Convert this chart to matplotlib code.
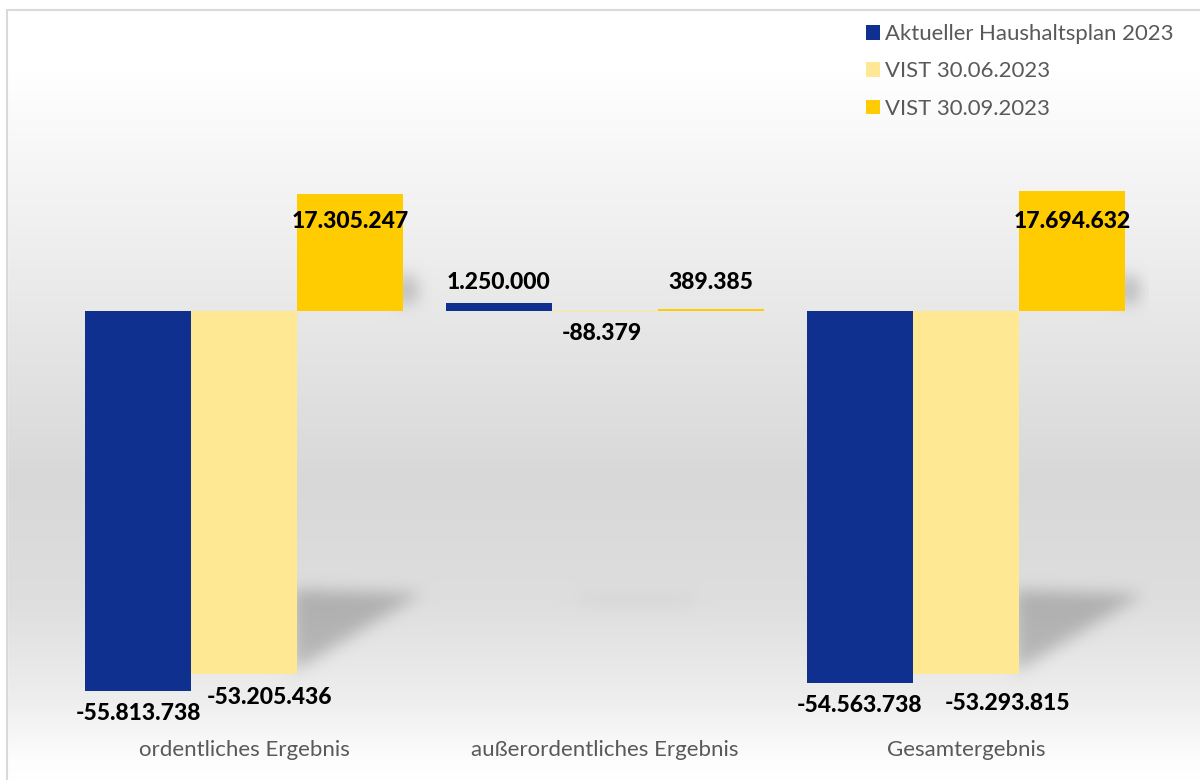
import numpy as np
import matplotlib
matplotlib.use("Agg")
import matplotlib.pyplot as plt
from matplotlib.patches import Patch, Rectangle
from matplotlib.path import Path

# ---------------- data ----------------
categories = ["ordentliches Ergebnis", "außerordentliches Ergebnis", "Gesamtergebnis"]
series_names = ["Aktueller Haushaltsplan 2023", "VIST 30.06.2023", "VIST 30.09.2023"]
haushaltsplan = [-55813738, 1250000, -54563738]
vist_0630 = [-53205436, -88379, -53293815]
vist_0930 = [17305247, 389385, 17694632]

series_values = [haushaltsplan, vist_0630, vist_0930]
colors = ["#10308f", "#fee893", "#fecc00"]

# label nudges in pixels (dx, dy) relative to bar end, per series/category
label_nudge = [
    [(0, -22), (0, 20), (0, -23)],
    [(25, -24), (-3, -21), (41, -29)],
    [(0, -28), (0, 26), (0, -30)],
]

def fmt(v):
    s = f"{abs(v):,}".replace(",", ".")
    return ("-" if v < 0 else "") + s

W, H = 1200, 780
fig = plt.figure(figsize=(W / 100, H / 100), dpi=100)
plt.rcParams['font.family'] = ['Lato', 'DejaVu Sans']

# main axes
left_px, right_px, top_px, bottom_px = 63.5, 1146.5, 150, 700
ax = fig.add_axes([left_px / W, 1 - bottom_px / H, (right_px - left_px) / W,
                   (bottom_px - top_px) / H])
ax.patch.set_alpha(0)
for s in ax.spines.values():
    s.set_visible(False)
ax.set_xlim(-0.5, 2.5)
ax.set_ylim(-57.09e6, 23.73e6)
ax.set_yticks([])

x = np.arange(len(categories))
bw = 0.2937
for i, (vals, c) in enumerate(zip(series_values, colors)):
    xpos = x + (i - 1) * bw
    ax.bar(xpos, vals, width=bw, color=c, zorder=3, label=series_names[i])
    for j, v in enumerate(vals):
        dx, dy = label_nudge[i][j]
        ax.annotate(fmt(v), (xpos[j], v), xytext=(dx * 0.72, dy * 0.72),
                    textcoords='offset points', ha='center', va='center',
                    fontsize=16.5, fontweight='black', color='black', zorder=5)

ax.set_xticks(x)
ax.set_xticklabels(categories, fontsize=16, color='#595959')
ax.tick_params(axis='x', length=0, pad=29)

# ---------------- background gradient with soft shadows ----------------
ys = np.array([0, 70, 150, 300, 480, 600, 700, 760, 780])
vs = np.array([255, 255, 247, 233, 216, 222, 238, 253, 255]) / 255.0
col = np.interp(np.arange(H), ys, vs)
bgimg = np.repeat(col[:, None], W, axis=1)

def to_px(xd, yd):
    X, Y = ax.transData.transform((xd, yd))
    return X, H - Y

gx, gy = np.meshgrid(np.arange(W) + 0.5, np.arange(H) + 0.5)
pts = np.column_stack([gx.ravel(), gy.ravel()])
mask = np.zeros((H, W))

def add_poly(verts, strength):
    p = Path(verts)
    m = p.contains_points(pts).reshape(H, W)
    mask[m] = np.maximum(mask[m], strength)

_, zero_y = to_px(0, 0)
for j in range(len(categories)):
    xl_light = x[j] - bw / 2
    xr_light = x[j] + bw / 2
    xr_gold = x[j] + 1.5 * bw
    v_light = vist_0630[j]
    v_gold = vist_0930[j]
    if v_light < -1e7:
        xr, yb = to_px(xr_light, v_light)
        add_poly([(xr - 4, yb - 84), (xr + 124, yb - 80), (xr - 4, yb - 2)], 1.0)
    else:
        x0, _ = to_px(xl_light, 0)
        x1, _ = to_px(xr_gold, 0)
        add_poly([(x0 + 28, 597), (x1 - 70, 597), (x1 - 70, 603), (x0 + 28, 603)], 0.3)
    if v_gold > 1e7:
        xr, _ = to_px(xr_gold, v_gold)
        add_poly([(xr - 6, zero_y - 38), (xr + 14, zero_y - 32),
                  (xr + 14, zero_y - 10), (xr - 6, zero_y - 6)], 1.0)

def blur(a, sigma):
    r = int(3 * sigma)
    k = np.exp(-0.5 * (np.arange(-r, r + 1) / sigma) ** 2)
    k /= k.sum()
    a = np.apply_along_axis(lambda v: np.convolve(v, k, mode='same'), 1, a)
    a = np.apply_along_axis(lambda v: np.convolve(v, k, mode='same'), 0, a)
    return a

mask = blur(mask, 8.0)
mask[:, 1149:] = 0
bgimg = bgimg * (1 - 0.21 * mask)

bg = fig.add_axes([0, 0, 1, 1], zorder=-10)
bg.set_axis_off()
bg.imshow(np.dstack([bgimg, bgimg, bgimg]), aspect='auto', extent=[0, 1, 0, 1],
          origin='upper', interpolation='nearest')
bg.set_xlim(0, 1); bg.set_ylim(0, 1)
bg.add_patch(Rectangle((0, 0), 7 / W, 1, color='white', zorder=1))
bg.add_patch(Rectangle((0, 1 - 10 / H), 1, 10 / H, color='white', zorder=1))
bg.add_patch(Rectangle((7 / W, -0.01), 1.2, 1 - 10 / H + 0.01, fill=False,
                       edgecolor='#d9d9d9', linewidth=1.5, zorder=2))

handles = [Patch(facecolor=c, edgecolor='none') for c in colors]
fig.legend(handles, series_names, loc='upper left',
           bbox_to_anchor=(866 / W, 1 - 24 / H), frameon=False,
           fontsize=15.9, labelcolor='#595959', handlelength=0.64,
           handleheight=0.64, handletextpad=0.23, labelspacing=0.79,
           borderaxespad=0, borderpad=0)

fig.savefig("out.png", dpi=100)
